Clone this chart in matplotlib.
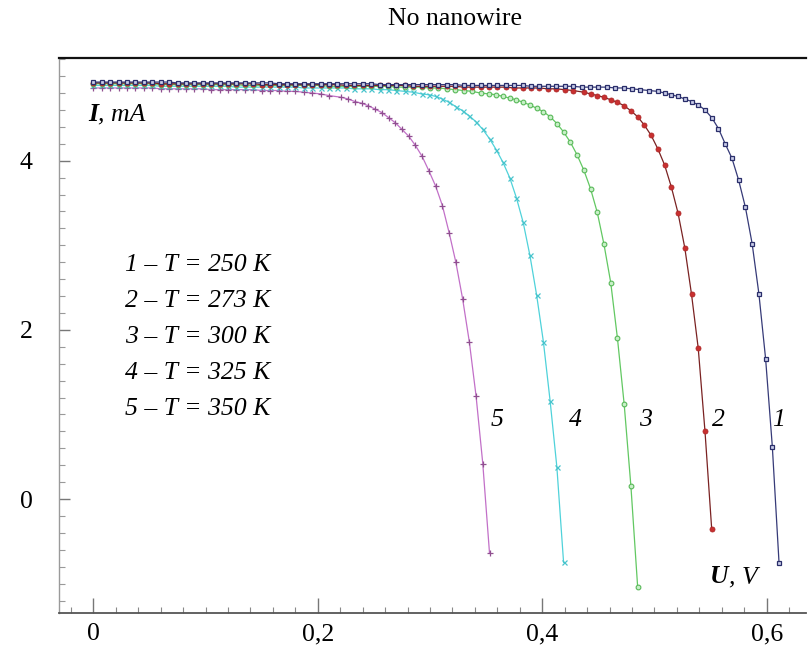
import matplotlib
matplotlib.use("Agg")
import matplotlib.pyplot as plt
from matplotlib.ticker import FixedLocator, MultipleLocator, FixedFormatter

# ---------------- data ----------------
# voltage grid of the flat (short-circuit) part, V
U_FLAT = [0, .0075, .015, .0225, .03, .0375, .045, .0525, .06, .0675,
          .075, .0825, .09, .0975, .105, .1125, .12, .1275, .135, .1425,
          .15, .1575, .165, .1725, .18, .1875, .195, .2025, .21, .2175,
          .225, .2325, .24, .2475, .255, .2625, .27, .2775, .285, .2925,
          .30, .3075, .315, .3225, .33, .3375, .345, .3525, .36, .3675,
          .375, .3825, .39, .3975, .405, .4125, .42, .4275, .435, .4425,
          .45, .4575, .465, .4725, .48, .4875, .495]

# curve 1, T = 250 K
U1 = U_FLAT[:67] + [.503, .509, .515, .521, .527, .533, .539, .545, .551, .557, .563, .569,
                    .575, .581, .587, .593, .599, .605, .611]
I1 = [4.93, 4.93, 4.93, 4.93, 4.93, 4.93, 4.93, 4.93, 4.93, 4.93,
      4.92, 4.92, 4.92, 4.92, 4.92, 4.92, 4.92, 4.92, 4.92, 4.92,
      4.92, 4.92, 4.91, 4.91, 4.91, 4.91, 4.91, 4.91, 4.91, 4.91,
      4.91, 4.91, 4.91, 4.91, 4.90, 4.90, 4.90, 4.90, 4.90, 4.90,
      4.90, 4.90, 4.90, 4.90, 4.89, 4.89, 4.89, 4.89, 4.89, 4.89,
      4.89, 4.89, 4.88, 4.88, 4.88, 4.88, 4.88, 4.88, 4.87, 4.87,
      4.87, 4.87, 4.86, 4.86, 4.85, 4.84, 4.83,
      4.82, 4.80, 4.78, 4.76, 4.73, 4.70, 4.66, 4.60, 4.51, 4.38, 4.20, 4.03,
      3.77, 3.45, 3.02, 2.43, 1.66, 0.62, -0.76]

# curve 2, T = 273 K
U2 = U_FLAT[:58] + [.437, .443, .449, .455, .461, .467, .473, .479, .485, .491, .497, .503,
                    .509, .515, .521, .527, .533, .539, .545, .551]
I2 = [4.92, 4.92, 4.92, 4.92, 4.92, 4.92, 4.92, 4.92, 4.91, 4.91,
      4.91, 4.91, 4.91, 4.91, 4.91, 4.91, 4.91, 4.91, 4.91, 4.91,
      4.90, 4.90, 4.90, 4.90, 4.90, 4.90, 4.90, 4.90, 4.90, 4.90,
      4.89, 4.89, 4.89, 4.89, 4.89, 4.89, 4.89, 4.89, 4.88, 4.88,
      4.88, 4.88, 4.88, 4.88, 4.87, 4.87, 4.87, 4.87, 4.87, 4.87,
      4.86, 4.86, 4.86, 4.86, 4.85, 4.85, 4.84, 4.83,
      4.81, 4.79, 4.77, 4.75, 4.72, 4.69, 4.65, 4.59, 4.52, 4.42, 4.30, 4.14,
      3.95, 3.69, 3.38, 2.97, 2.42, 1.78, 0.80, -0.36]

# curve 3, T = 300 K
U3 = U_FLAT[:48] + [.359, .365, .371, .377, .383, .389, .395, .401, .407, .413, .419, .425,
                    .431, .437, .443, .449, .455, .461, .467, .473, .479, .485]
I3 = [4.91, 4.91, 4.91, 4.91, 4.91, 4.91, 4.91, 4.91, 4.90, 4.90,
      4.90, 4.90, 4.90, 4.90, 4.90, 4.90, 4.90, 4.90, 4.89, 4.89,
      4.89, 4.89, 4.89, 4.89, 4.89, 4.89, 4.89, 4.89, 4.88, 4.88,
      4.88, 4.88, 4.88, 4.88, 4.88, 4.88, 4.87, 4.87, 4.87, 4.87,
      4.86, 4.86, 4.85, 4.84, 4.83, 4.82, 4.80, 4.79,
      4.78, 4.76, 4.74, 4.72, 4.69, 4.66, 4.62, 4.58, 4.52, 4.44, 4.34, 4.22,
      4.07, 3.89, 3.67, 3.39, 3.01, 2.56, 1.90, 1.12, 0.15, -1.04]

# curve 4, T = 325 K
U4 = U_FLAT[:40] + [.299, .305, .311, .317, .323, .329, .335, .341, .347, .353, .359, .365,
                    .371, .377, .383, .389, .395, .401, .407, .413, .419]
I4 = [4.89, 4.89, 4.89, 4.89, 4.89, 4.89, 4.89, 4.89, 4.88, 4.88,
      4.88, 4.88, 4.88, 4.88, 4.88, 4.88, 4.88, 4.87, 4.87, 4.87,
      4.87, 4.87, 4.87, 4.87, 4.87, 4.86, 4.86, 4.86, 4.86, 4.86,
      4.86, 4.85, 4.85, 4.85, 4.84, 4.84, 4.83, 4.82, 4.81, 4.79,
      4.78, 4.76, 4.73, 4.69, 4.64, 4.59, 4.53, 4.46, 4.37, 4.26, 4.13, 3.98,
      3.80, 3.56, 3.27, 2.88, 2.41, 1.86, 1.16, 0.38, -0.75]

# curve 5, T = 350 K
U5 = U_FLAT[:29] + [.221, .227, .233, .239, .245, .251, .257, .263, .269, .275, .281, .287,
                    .293, .299, .305, .311, .317, .323, .329, .335, .341, .347, .353]
I5 = [4.86, 4.86, 4.86, 4.86, 4.86, 4.86, 4.86, 4.86, 4.85, 4.85,
      4.85, 4.85, 4.85, 4.85, 4.84, 4.84, 4.84, 4.84, 4.84, 4.84,
      4.83, 4.83, 4.83, 4.82, 4.82, 4.81, 4.80, 4.79, 4.77,
      4.75, 4.73, 4.70, 4.68, 4.65, 4.61, 4.57, 4.51, 4.45, 4.37, 4.29, 4.18,
      4.05, 3.88, 3.70, 3.47, 3.15, 2.80, 2.37, 1.86, 1.22, 0.42, -0.64]

curve_numbers = ["1", "2", "3", "4", "5"]
temperatures = [250, 273, 300, 325, 350]
x_ticks = [0, 0.2, 0.4, 0.6]
x_tick_labels = ["0", "0,2", "0,4", "0,6"]
y_ticks = [0, 2, 4]
y_tick_labels = ["0", "2", "4"]
title = "No nanowire"

# ---------------- styling ----------------
plt.rcParams['font.family'] = ['Liberation Serif', 'DejaVu Serif']
FS = 18.5

fig = plt.figure(figsize=(8.1, 6.47), dpi=100)
ax = fig.add_axes([59/810, 1 - 613.3/647, (806 - 59)/810, (613.3 - 57.7)/647])
ax.set_xlim(-0.0306, 0.635)
ax.set_ylim(-1.351, 5.218)

styles = [
    dict(color='#363a78', marker='s', ms=3.4, mfc='#c9cdea', mec='#2a2e6a', mew=0.9),
    dict(color='#7a2222', marker='o', ms=3.6, mfc='#c83030', mec='#b02828', mew=0.6),
    dict(color='#62c862', marker='o', ms=3.4, mfc='#c8f0c8', mec='#58b858', mew=0.8),
    dict(color='#4fd2da', marker='x', ms=3.6, mec='#48c4cc', mew=0.9),
    dict(color='#c270c8', marker='+', ms=5, mec='#905090', mew=0.9),
]
data = [(U1, I1), (U2, I2), (U3, I3), (U4, I4), (U5, I5)]
for k in range(4, -1, -1):
    u, i = data[k]
    ax.plot(u, i, lw=0.9, zorder=3 + (4 - k), **styles[k])

# spines
ax.spines['right'].set_visible(False)
ax.spines['top'].set_color('#111111')
ax.spines['top'].set_linewidth(1.6)
ax.spines['left'].set_color('#9a9a9a')
ax.spines['left'].set_linewidth(1.0)
ax.spines['bottom'].set_color('#555555')
ax.spines['bottom'].set_linewidth(1.3)

ax.xaxis.set_major_locator(FixedLocator(x_ticks))
ax.xaxis.set_major_formatter(FixedFormatter(x_tick_labels))
ax.xaxis.set_minor_locator(MultipleLocator(0.02))
ax.yaxis.set_major_locator(FixedLocator(y_ticks))
ax.yaxis.set_major_formatter(FixedFormatter(y_tick_labels))
ax.yaxis.set_minor_locator(MultipleLocator(0.2))

ax.tick_params(axis='x', which='major', direction='in', length=11, width=1.0, color='#777777',
               labelsize=FS, pad=7, top=False)
ax.tick_params(axis='x', which='minor', direction='in', length=4, width=0.8, color='#888888',
               top=False)
ax.tick_params(axis='y', which='major', direction='in', length=8, width=1.0, color='#777777',
               labelsize=FS, pad=19, right=False)
ax.tick_params(axis='y', which='minor', direction='in', length=4, width=0.8, color='#999999',
               right=False)

# title
fig.text(454.5/810, 1 - 19/647, title, ha='center', va='center', fontsize=FS)

# axis labels inside the plot
t_i = ax.text(-0.0046, 4.55, "I", fontsize=FS, fontweight='bold', fontstyle='italic',
              ha='left', va='center')
ax.annotate(", mA", xy=(1, 0), xycoords=t_i, fontsize=FS, fontstyle='italic',
            ha='left', va='bottom')
t_u = ax.text(0.5497, -0.92, "U", fontsize=FS, fontweight='bold', fontstyle='italic',
              ha='left', va='center')
ax.annotate(", V", xy=(1, 0), xycoords=t_u, fontsize=FS, fontstyle='italic',
            ha='left', va='bottom')

# legend lines
leg_y = [2.766, 2.34, 1.915, 1.489, 1.064]
for n, T, yy in zip(curve_numbers, temperatures, leg_y):
    ax.text(0.0283, yy, f"{n} \u2013 T = {T} K", fontsize=FS, fontstyle='italic',
            ha='left', va='center')

# curve numbers
num_x = [0.6105, 0.557, 0.4917, 0.4293, 0.3595]
for n, xx in zip(curve_numbers, num_x):
    ax.text(xx, 0.934, n, fontsize=FS, fontstyle='italic', ha='center', va='center')

fig.savefig("out.png", dpi=100)
